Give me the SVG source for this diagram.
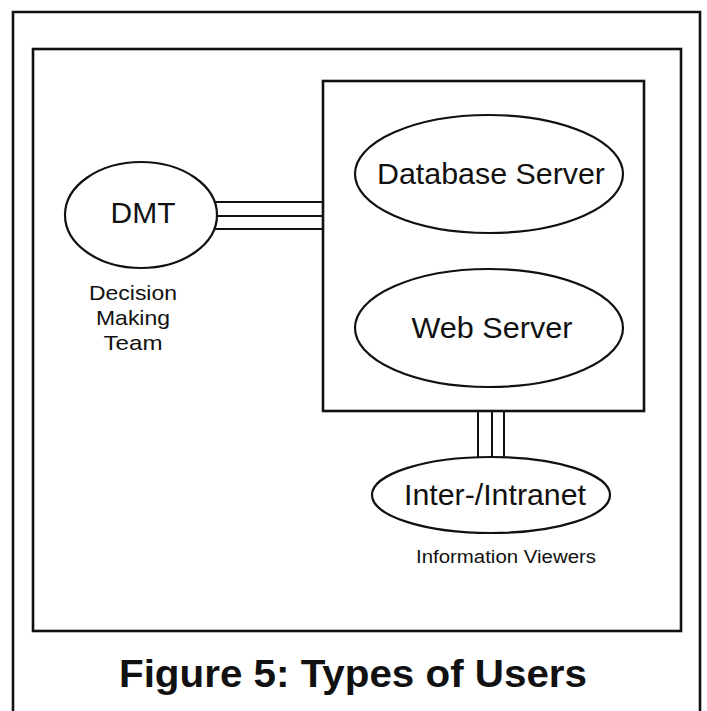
<svg xmlns="http://www.w3.org/2000/svg" width="707" height="711" viewBox="0 0 707 711">
  <style>
    .frame { fill: none; stroke: #111; stroke-width: 2.6; }
    .node { fill: #fff; stroke: #111; stroke-width: 2.2; }
    .link { stroke: #111; stroke-width: 2; fill: none; }
    text { font-family: "Liberation Sans", Arial, sans-serif; fill: #111; text-anchor: middle; }
    .big { font-size: 30px; }
    .small { font-size: 21px; }
    .title { font-size: 38px; font-weight: bold; }
  </style>
  <rect width="707" height="711" fill="#fff"/>

  <!-- page border (open at the bottom) -->
  <path class="frame" d="M13,715 V12 H700 V715"/>
  <!-- figure frame -->
  <rect class="frame" x="33" y="49" width="648" height="582" stroke-width="3"/>

  <!-- connectors -->
  <g id="connectors">
    <line class="link" x1="214" y1="202" x2="323" y2="202"/>
    <line class="link" x1="216" y1="216" x2="323" y2="216"/>
    <line class="link" x1="213" y1="229" x2="323" y2="229"/>
    <line class="link" x1="478" y1="411" x2="478" y2="458"/>
    <line class="link" x1="492" y1="411" x2="492" y2="457"/>
    <line class="link" x1="504" y1="411" x2="504" y2="458"/>
  </g>

  <g id="server-box">
    <rect class="frame" x="323" y="81" width="321" height="330"/>
  </g>

  <g id="database-server">
    <ellipse class="node" cx="489" cy="174" rx="134" ry="59"/>
    <text class="big" x="491" y="184" textLength="228" lengthAdjust="spacingAndGlyphs">Database Server</text>
  </g>

  <g id="web-server">
    <ellipse class="node" cx="489" cy="328" rx="134" ry="59"/>
    <text class="big" x="492" y="338" textLength="161" lengthAdjust="spacingAndGlyphs">Web Server</text>
  </g>

  <g id="dmt">
    <ellipse class="node" cx="141" cy="215" rx="76" ry="53"/>
    <text class="big" x="143" y="223">DMT</text>
    <text class="small" x="133" y="300" textLength="88" lengthAdjust="spacingAndGlyphs">Decision</text>
    <text class="small" x="133" y="325" textLength="74" lengthAdjust="spacingAndGlyphs">Making</text>
    <text class="small" x="133" y="350" textLength="59" lengthAdjust="spacingAndGlyphs">Team</text>
  </g>

  <g id="inter-intranet">
    <ellipse class="node" cx="491" cy="495" rx="119" ry="38"/>
    <text class="big" x="495" y="505" textLength="182" lengthAdjust="spacingAndGlyphs">Inter-/Intranet</text>
    <text x="506" y="563" style="font-size:17.5px" textLength="180" lengthAdjust="spacingAndGlyphs">Information Viewers</text>
  </g>

  <g id="caption">
    <text class="title" x="353" y="687" textLength="468" lengthAdjust="spacingAndGlyphs">Figure 5: Types of Users</text>
  </g>
</svg>
